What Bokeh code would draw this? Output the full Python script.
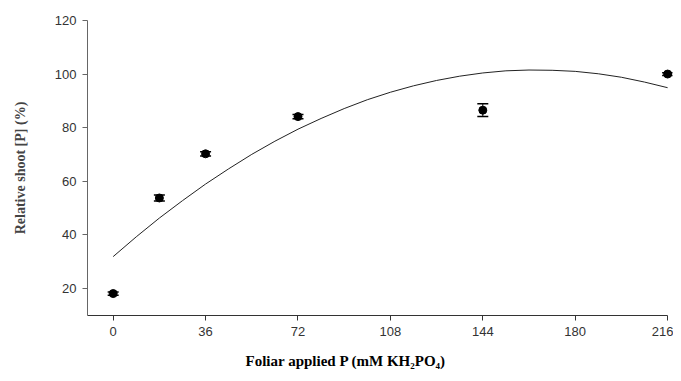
from bokeh.plotting import figure
from bokeh.models import ColumnDataSource, Whisker, TeeHead, FixedTicker, Range1d, Title
from bokeh.embed import file_html
from bokeh.resources import INLINE

# Measured points (foliar applied P, mM KH2PO4) and relative shoot [P] (%)
x_vals = [0, 18, 36, 72, 144, 216]
y_vals = [18.0, 53.7, 70.2, 84.1, 86.5, 100.0]
y_err = [0.6, 1.1, 0.8, 0.8, 2.4, 0.5]

# Fitted curve
curve_x = [0, 9, 18, 27, 36, 45, 54, 63, 72, 81, 90, 99, 108, 117, 126,
           135, 144, 153, 162, 171, 180, 189, 198, 207, 216]
curve_y = [31.8, 39.2, 46.2, 52.7, 58.9, 64.6, 70.0, 74.9, 79.4, 83.4, 87.1,
           90.4, 93.2, 95.6, 97.6, 99.2, 100.4, 101.2, 101.5, 101.4, 101.0,
           100.1, 98.8, 97.0, 94.9]

x_ticks = [0, 36, 72, 108, 144, 180, 216]
y_ticks = [20, 40, 60, 80, 100, 120]
x_title = "Foliar applied P (mM KH\u2082PO\u2084)"
y_title = "Relative shoot [P] (%)"

p = figure(width=673, height=373, output_backend="svg", toolbar_location=None,
           x_range=Range1d(-10, 217.9), y_range=Range1d(9.8, 120),
           frame_width=585, frame_height=295,
           min_border_left=87, min_border_top=20, min_border_right=1, min_border_bottom=58)
p.outline_line_color = None
p.grid.visible = False
p.background_fill_color = "white"
p.border_fill_color = "white"

p.line(curve_x, curve_y, line_color="#222222", line_width=1)

src = ColumnDataSource(dict(x=x_vals, y=y_vals,
                            lo=[v - e for v, e in zip(y_vals, y_err)],
                            hi=[v + e for v, e in zip(y_vals, y_err)]))
w = Whisker(source=src, base="x", upper="hi", lower="lo",
            line_color="black", line_width=1,
            upper_head=TeeHead(size=11, line_color="black", line_width=1.5),
            lower_head=TeeHead(size=11, line_color="black", line_width=1.5))
p.add_layout(w)
p.scatter("x", "y", source=src, size=8, color="black")

xa = p.xaxis[0]
xa.ticker = FixedTicker(ticks=x_ticks)
xa.bounds = (-10, 216)
xa.major_label_text_font = "Liberation Sans"
xa.major_label_text_font_size = "13px"
xa.major_label_text_color = "#333333"
xa.major_label_standoff = 6
xa.axis_line_color = "#333333"
xa.major_tick_line_color = "#333333"
xa.major_tick_out = 5
xa.major_tick_in = 0
xa.minor_tick_line_color = None

# x-axis title, set left of centre as in the original
p.add_layout(Title(text=x_title, align="left", offset=158, standoff=24,
                   text_font="Liberation Serif", text_font_style="bold",
                   text_font_size="15px", text_color="black"), "below")

ya = p.yaxis[0]
ya.ticker = FixedTicker(ticks=y_ticks)
ya.axis_label = y_title
ya.axis_label_text_font = "Liberation Serif"
ya.axis_label_text_font_style = "bold"
ya.axis_label_text_font_size = "14px"
ya.axis_label_standoff = 24
ya.major_label_text_font = "Liberation Sans"
ya.major_label_text_font_size = "13px"
ya.major_label_text_color = "#333333"
ya.major_label_standoff = 6
ya.axis_line_color = "#666666"
ya.major_tick_line_color = "#666666"
ya.major_tick_out = 5
ya.major_tick_in = 0
ya.minor_tick_line_color = None

open("out.html", "w").write(file_html(p, INLINE))
